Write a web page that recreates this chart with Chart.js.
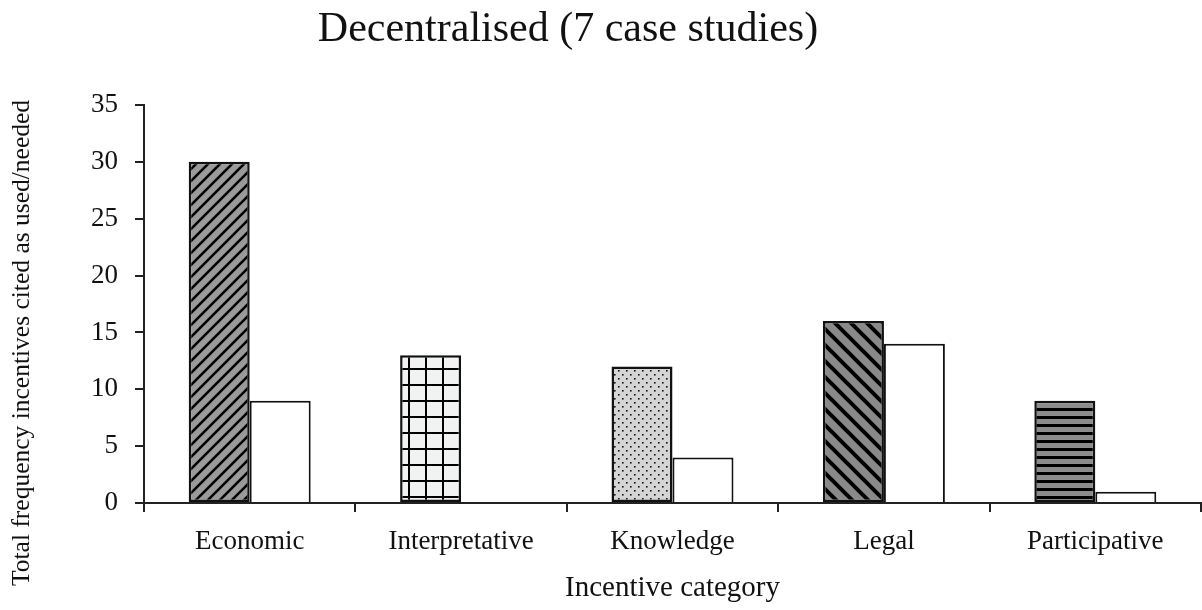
<!DOCTYPE html>
<html>
<head>
<meta charset="utf-8">
<script src="https://cdn.jsdelivr.net/npm/chart.js@4"></script>
<style>
  html, body { margin: 0; padding: 0; background: #fff; }
  #wrap { position: relative; width: 1202px; height: 610px; }
  #title {
    position: absolute; left: 0; top: 3px; width: 1136px;
    text-align: center; font-family: "Liberation Serif", serif;
    font-size: 42px; color: #111;
  }
</style>
</head>
<body>
<div id="wrap">
  <canvas id="chart" width="1202" height="610"></canvas>
  <div id="title">Decentralised (7 case studies)</div>
</div>
<script>
const categories = ['Economic', 'Interpretative', 'Knowledge', 'Legal', 'Participative'];
const usedValues = [30, 13, 12, 16, 9];
const neededValues = [9, 0, 4, 14, 1];
const yTicks = [0, 5, 10, 15, 20, 25, 30, 35];
const yTitle = 'Total frequency incentives cited as used/needed';

function tile(w, h, draw) {
  const c = document.createElement('canvas');
  c.width = w; c.height = h;
  const g = c.getContext('2d');
  draw(g, w, h);
  return g.createPattern(c, 'repeat');
}

// hatch fills, one per category
const hatchUp = tile(12, 12, (g, w, h) => {
  g.fillStyle = '#9a9a9a'; g.fillRect(0, 0, w, h);
  g.strokeStyle = '#000'; g.lineWidth = 2.6;
  g.beginPath();
  g.moveTo(-2, h + 2); g.lineTo(w + 2, -2);
  g.moveTo(-2, 2); g.lineTo(2, -2);
  g.moveTo(w - 2, h + 2); g.lineTo(w + 2, h - 2);
  g.stroke();
});
const grid = tile(17, 16, (g, w, h) => {
  g.fillStyle = '#f1f3f3'; g.fillRect(0, 0, w, h);
  g.fillStyle = '#000';
  g.fillRect(0, 0, 2, h);
  g.fillRect(0, 0, w, 2);
});
const dots = tile(8, 8, (g, w, h) => {
  g.fillStyle = '#d5d5d5'; g.fillRect(0, 0, w, h);
  g.fillStyle = '#111';
  g.fillRect(2, 2, 1.6, 1.6);
  g.fillRect(6, 6, 1.6, 1.6);
});
const hatchDown = tile(16, 16, (g, w, h) => {
  g.fillStyle = '#8a8a8a'; g.fillRect(0, 0, w, h);
  g.strokeStyle = '#000'; g.lineWidth = 4;
  g.beginPath();
  g.moveTo(-2, -2); g.lineTo(w + 2, h + 2);
  g.moveTo(-3, h - 3); g.lineTo(3, h + 3);
  g.moveTo(w - 3, -3); g.lineTo(w + 3, 3);
  g.stroke();
});
const stripes = tile(8, 8, (g, w, h) => {
  g.fillStyle = '#8c8c8c'; g.fillRect(0, 0, w, h);
  g.fillStyle = '#000'; g.fillRect(0, 0, w, 3);
});

// y axis title sits lower than the plot centre in the original
const yTitlePlugin = {
  id: 'yTitle',
  afterDraw(chart) {
    const c = chart.ctx;
    c.save();
    c.translate(22, 343);
    c.rotate(-Math.PI / 2);
    c.font = '25.5px "Liberation Serif"';
    c.fillStyle = '#111';
    c.textAlign = 'center';
    c.textBaseline = 'middle';
    c.fillText(yTitle, 0, 0);
    c.restore();
  }
};

const ctx = document.getElementById('chart').getContext('2d');
new Chart(ctx, {
  type: 'bar',
  data: {
    labels: categories,
    datasets: [{
      label: 'Used',
      data: usedValues,
      backgroundColor: [hatchUp, grid, dots, hatchDown, stripes],
      borderColor: '#111',
      borderWidth: 2.5,
      borderSkipped: false
    }, {
      label: 'Needed',
      data: neededValues,
      backgroundColor: '#fff',
      borderColor: '#111',
      borderWidth: 2
    }]
  },
  options: {
    responsive: false,
    animation: false,
    layout: { padding: { top: 105, right: 1, bottom: 0, left: 0 } },
    datasets: { bar: { barPercentage: 1, categoryPercentage: 0.577 } },
    plugins: { legend: { display: false }, tooltip: { enabled: false } },
    scales: {
      x: {
        offset: true,
        grid: { offset: true, drawOnChartArea: false, tickLength: 9, color: '#222', lineWidth: 2 },
        border: { color: '#222', width: 2 },
        ticks: { color: '#111', padding: 14, font: { family: 'Liberation Serif', size: 27 } },
        title: { display: true, text: 'Incentive category', color: '#111', padding: { top: 2 },
                 font: { family: 'Liberation Serif', size: 29 } },
        afterFit: s => { s.height = 107; }
      },
      y: {
        min: 0, max: 35,
        afterBuildTicks: s => { s.ticks = yTicks.map(v => ({ value: v })); },
        grid: { drawOnChartArea: false, tickLength: 9, color: '#222', lineWidth: 2 },
        border: { color: '#222', width: 2 },
        ticks: { color: '#111', padding: 17, font: { family: 'Liberation Serif', size: 27 } },
        afterFit: s => { s.width = 144; }
      }
    }
  },
  plugins: [yTitlePlugin]
});
</script>
</body>
</html>
